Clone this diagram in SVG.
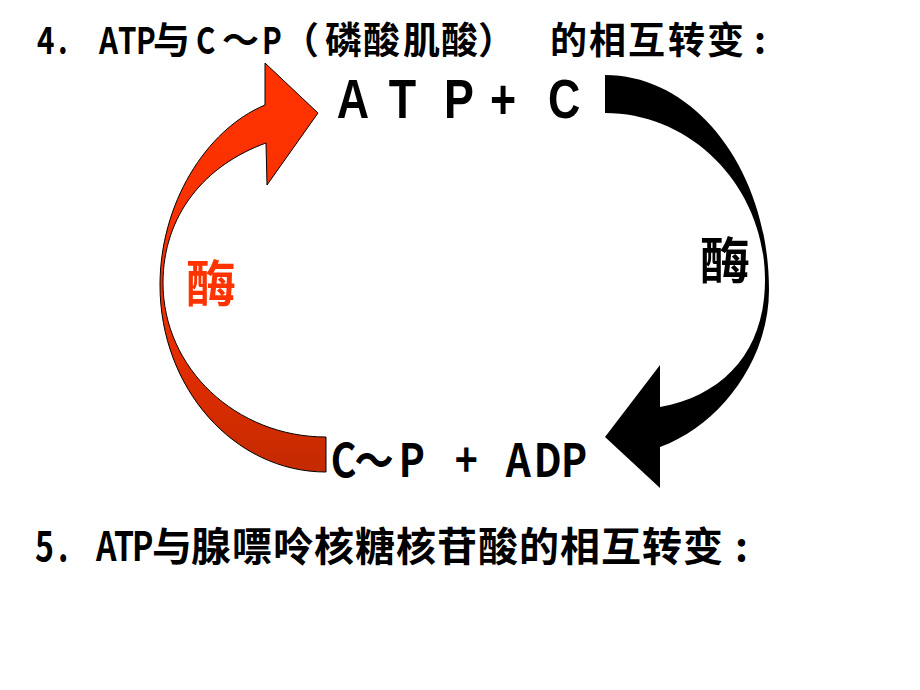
<svg xmlns="http://www.w3.org/2000/svg" width="920" height="690" viewBox="0 0 920 690">
<defs>
<linearGradient id="redGrad" x1="0" y1="63" x2="0" y2="472" gradientUnits="userSpaceOnUse">
<stop offset="0" stop-color="#FF3300"/>
<stop offset="0.55" stop-color="#F63000"/>
<stop offset="1" stop-color="#C42A00"/>
</linearGradient>
</defs>
<style>
.cjk{font-family:"Noto Sans CJK SC","Noto Sans CJK TC",sans-serif;font-weight:700;fill:#000}
.lat{font-family:"Liberation Sans",Arial,sans-serif;font-weight:700;fill:#000}
.red{fill:#FF3300}
</style>
<rect x="0" y="0" width="920" height="690" fill="#FFFFFF"/>
<g id="title-4">
<text class="cjk" font-size="37" y="54" transform="scale(0.8,1)" x="46.25 72.5">4.</text>
<text class="cjk" font-size="37" y="54" transform="scale(0.8,1)" x="123.75 147.5 170">ATP</text>
<text class="cjk" font-size="37" y="54" x="153">与</text>
<text class="cjk" font-size="37" y="54" transform="scale(0.8,1)" x="245">C</text>
<text class="cjk" font-size="37" y="54" x="222">～</text>
<text class="cjk" font-size="37" y="54" transform="scale(0.8,1)" x="327.5">P</text>
<text class="cjk" font-size="37" y="54" x="282 325 363 403 441 478">（磷酸肌酸）</text>
<text class="cjk" font-size="37" y="54" x="550 589 628 668 707 754">的相互转变:</text>
</g>
<g id="connectors">
<path id="arrow-red" d="M 326,472 C 234,472 160,388 160,285 C 160,205 205,130 265,105 L 265,63 L 318,113 L 267,185 L 266,143 C 205,165 163,215 163,283 C 163,368 236,437 326,437 Z" fill="url(#redGrad)" stroke="#000" stroke-width="1"/>
<path id="arrow-black" d="M 605,75 C 696,75 769,171 769,290 C 769,360 720,425 660,447 L 660,488 L 605,437 L 660,365 L 660,407 C 725,395 765,350 765,280 C 765,188 693,113 605,113 Z" fill="#000"/>
<text id="label-red" class="cjk red" font-size="50" x="186" y="302">酶</text>
<text id="label-black" class="cjk" font-size="50" x="700" y="279">酶</text>
</g>
<g id="node-atp-c">
<text class="lat" font-size="56" y="118" transform="scale(0.8,1)" x="421 486 555 612.5 685">ATP+C</text>
</g>
<g id="node-cp-adp">
<text class="cjk" font-size="46" y="477" transform="scale(0.85,1)" x="389 417 469 535 595 628 660">C～P+ADP</text>
</g>
<g id="title-5">
<text class="cjk" font-size="40" y="561" transform="scale(0.8,1)" x="43.75 72.5">5.</text>
<text class="cjk" font-size="40" y="561" transform="scale(0.8,1)" x="120 142.5 165">ATP</text>
<text class="cjk" font-size="40" y="561" x="152 191 232 273 314 355 396 437 478 519 560 601 642 683 735">与腺嘌呤核糖核苷酸的相互转变:</text>
</g>
</svg>
